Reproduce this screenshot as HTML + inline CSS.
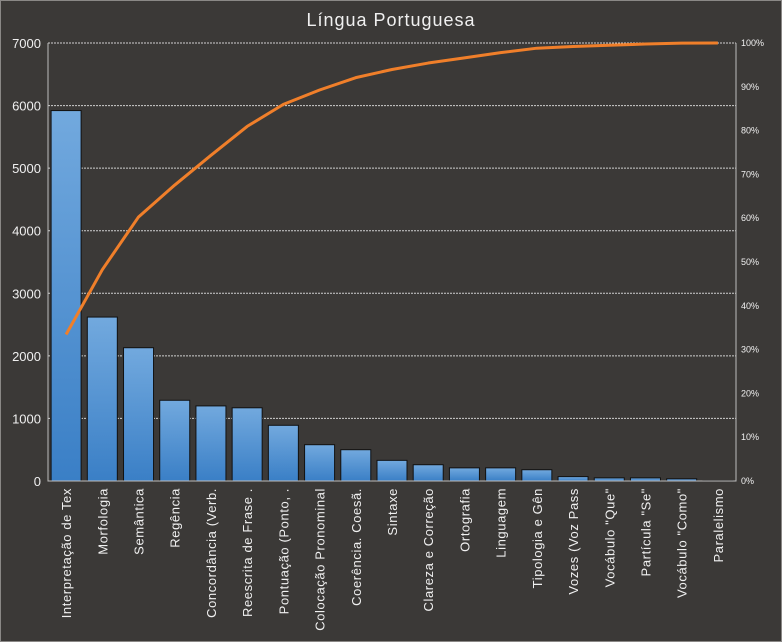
<!DOCTYPE html>
<html><head><meta charset="utf-8"><style>
html,body{margin:0;padding:0;background:#3b3937;}
svg{display:block;font-family:"Liberation Sans",sans-serif;}
</style></head><body>
<svg width="782" height="642">
<defs><linearGradient id="bg" x1="0" y1="0" x2="0" y2="1"><stop offset="0" stop-color="#72a9de"/><stop offset="1" stop-color="#3a7fc6"/></linearGradient></defs>
<rect x="0.5" y="0.5" width="781" height="641" fill="#3b3937" stroke="#8a8886"/>
<text x="391" y="26" text-anchor="middle" font-size="18" letter-spacing="1" fill="#f0f0f0">Língua Portuguesa</text>
<g id="grid"></g><g id="bars"></g><g id="axes"></g><g id="line"></g><g id="labels"></g>
</svg>
<script>
const categories=["Interpretação de Tex","Morfologia","Semântica","Regência","Concordância (Verb.","Reescrita de Frase .","Pontuação (Ponto, .","Colocação Pronominal","Coerência. Coesã.","Sintaxe","Clareza e Correção","Ortografia","Linguagem","Tipologia e Gên","Vozes (Voz Pass","Vocábulo \"Que\"","Partícula \"Se\"","Vocábulo \"Como\"","Paralelismo"];
const values=[5920,2620,2130,1290,1200,1170,890,580,500,330,260,210,210,180,70,50,50,35,5];
const leftTicks=[0,1000,2000,3000,4000,5000,6000,7000];
const rightTicks=[0,10,20,30,40,50,60,70,80,90,100];
const NS="http://www.w3.org/2000/svg";
const L=48,R=736,T=43,B=481,MAX=7000;
const bw=(R-L)/categories.length;
const y=v=>B-(v/MAX)*(B-T);
const yp=p=>B-(p/100)*(B-T);
const xc=i=>L+bw*(i+0.5);
function mk(tag,attrs,parent){const e=document.createElementNS(NS,tag);for(const k in attrs)e.setAttribute(k,attrs[k]);document.getElementById(parent).appendChild(e);return e;}
leftTicks.forEach(t=>{
 if(t>0){const g=mk('line',{x1:L,x2:R,y1:y(t),y2:y(t),stroke:'#d0d0d0','stroke-width':1,'stroke-dasharray':'2,1'},'grid');
 
 }
 const tx=mk('text',{x:41,y:y(t)+5,'text-anchor':'end','font-size':13,fill:'#f0f0f0'},'labels');tx.textContent=t;
 
 
});
rightTicks.forEach(p=>{
 const tx=mk('text',{x:741,y:yp(p)+3,'font-size':9,fill:'#f0f0f0'},'labels');tx.textContent=p+'%';
 
 
});
values.forEach((v,i)=>{
 const r=mk('rect',{x:xc(i)-15,y:y(v),width:30,height:B-y(v),fill:'url(#bg)',stroke:'#111','stroke-width':1},'bars');
 
 
 const tx=mk('text',{transform:`translate(${xc(i)+5},488) rotate(-90)`,'text-anchor':'end','font-size':13,'letter-spacing':'0.6',fill:'#f0f0f0'},'labels');tx.textContent=categories[i];
 
 
});
const ax=mk('path',{d:`M${L},${T}V${B}H${R}V${T}`,fill:'none',stroke:'#bdbdbd','stroke-width':1},'axes');


const total=values.reduce((a,b)=>a+b,0);
let cum=0;const pts=values.map((v,i)=>{cum+=v;return xc(i)+','+yp(cum/total*100);});
const pl=mk('polyline',{points:pts.join(' '),fill:'none',stroke:'#f07f2a','stroke-width':3,'stroke-linejoin':'round'},'line');


</script>
</body></html>
